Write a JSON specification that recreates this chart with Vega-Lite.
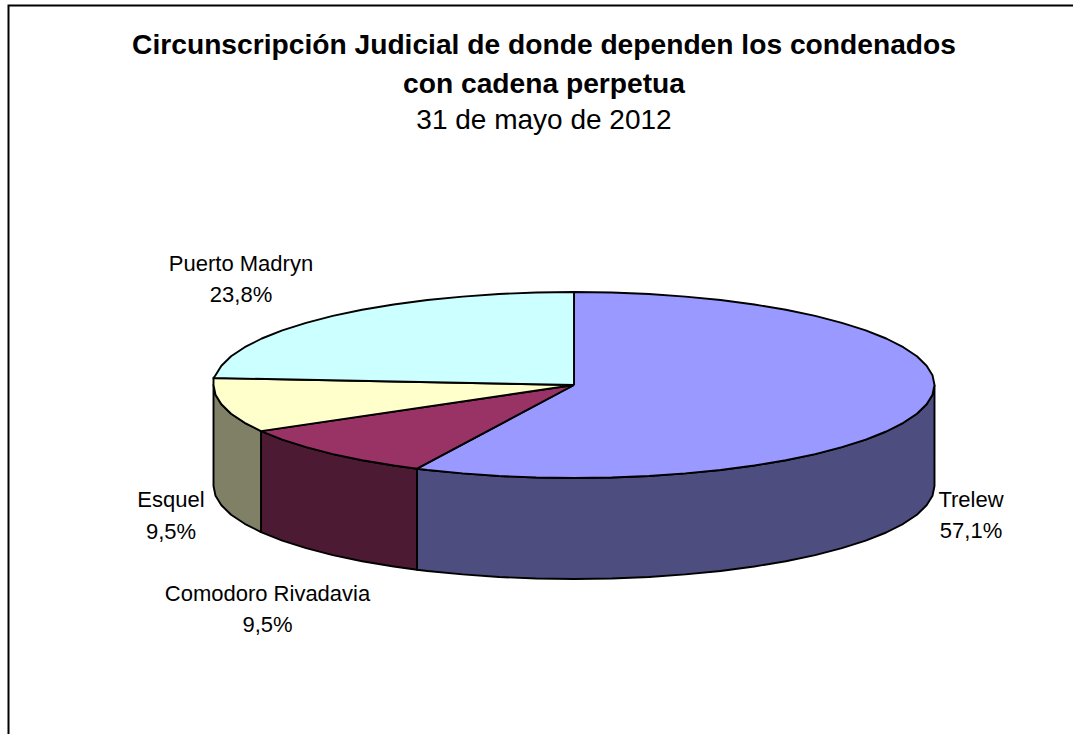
{
"$schema":"https://vega.github.io/schema/vega-lite/v6.json",
"width":1073,"height":734,"padding":0,"autosize":{"type":"fit","contains":"padding"},
"background":"white","view":{"stroke":null},
"datasets":{
"shape":[
{"p":"Trelew lado","n":1,"x":360.5,"y":0},{"p":"Trelew lado","n":2,"x":358.5,"y":9.7},{"p":"Trelew lado","n":3,"x":352.6,"y":19.3},{"p":"Trelew lado","n":4,"x":342.9,"y":28.7},{"p":"Trelew lado","n":5,"x":329.3,"y":37.8},{"p":"Trelew lado","n":6,"x":312.2,"y":46.5},{"p":"Trelew lado","n":7,"x":291.7,"y":54.7},{"p":"Trelew lado","n":8,"x":267.9,"y":62.2},{"p":"Trelew lado","n":9,"x":241.2,"y":69.1},{"p":"Trelew lado","n":10,"x":211.9,"y":75.2},{"p":"Trelew lado","n":11,"x":180.3,"y":80.5},{"p":"Trelew lado","n":12,"x":146.6,"y":85},{"p":"Trelew lado","n":13,"x":111.4,"y":88.4},{"p":"Trelew lado","n":14,"x":75,"y":91},{"p":"Trelew lado","n":15,"x":37.7,"y":92.5},{"p":"Trelew lado","n":16,"x":0,"y":93},{"p":"Trelew lado","n":17,"x":-37.7,"y":92.5},{"p":"Trelew lado","n":18,"x":-75,"y":91},{"p":"Trelew lado","n":19,"x":-111.4,"y":88.4},{"p":"Trelew lado","n":20,"x":-146.6,"y":85},{"p":"Trelew lado","n":21,"x":-157,"y":83.7},
{"p":"Trelew lado","n":22,"x":-157,"y":184.7},{"p":"Trelew lado","n":23,"x":-146.6,"y":186},{"p":"Trelew lado","n":24,"x":-111.4,"y":189.4},{"p":"Trelew lado","n":25,"x":-75,"y":192},{"p":"Trelew lado","n":26,"x":-37.7,"y":193.5},{"p":"Trelew lado","n":27,"x":0,"y":194},{"p":"Trelew lado","n":28,"x":37.7,"y":193.5},{"p":"Trelew lado","n":29,"x":75,"y":192},{"p":"Trelew lado","n":30,"x":111.4,"y":189.4},{"p":"Trelew lado","n":31,"x":146.6,"y":186},{"p":"Trelew lado","n":32,"x":180.3,"y":181.5},{"p":"Trelew lado","n":33,"x":211.9,"y":176.2},{"p":"Trelew lado","n":34,"x":241.2,"y":170.1},{"p":"Trelew lado","n":35,"x":267.9,"y":163.2},{"p":"Trelew lado","n":36,"x":291.7,"y":155.7},{"p":"Trelew lado","n":37,"x":312.2,"y":147.5},{"p":"Trelew lado","n":38,"x":329.3,"y":138.8},{"p":"Trelew lado","n":39,"x":342.9,"y":129.7},{"p":"Trelew lado","n":40,"x":352.6,"y":120.3},{"p":"Trelew lado","n":41,"x":358.5,"y":110.7},{"p":"Trelew lado","n":42,"x":360.5,"y":101},{"p":"Trelew lado","n":43,"x":360.5,"y":0},

{"p":"Comodoro lado","n":1,"x":-157,"y":83.7},{"p":"Comodoro lado","n":2,"x":-180.3,"y":80.5},{"p":"Comodoro lado","n":3,"x":-211.9,"y":75.2},{"p":"Comodoro lado","n":4,"x":-241.2,"y":69.1},{"p":"Comodoro lado","n":5,"x":-267.9,"y":62.2},{"p":"Comodoro lado","n":6,"x":-291.7,"y":54.7},{"p":"Comodoro lado","n":7,"x":-313,"y":46.1},{"p":"Comodoro lado","n":8,"x":-313,"y":147.1},{"p":"Comodoro lado","n":9,"x":-291.7,"y":155.7},{"p":"Comodoro lado","n":10,"x":-267.9,"y":163.2},{"p":"Comodoro lado","n":11,"x":-241.2,"y":170.1},{"p":"Comodoro lado","n":12,"x":-211.9,"y":176.2},{"p":"Comodoro lado","n":13,"x":-180.3,"y":181.5},{"p":"Comodoro lado","n":14,"x":-157,"y":184.7},{"p":"Comodoro lado","n":15,"x":-157,"y":83.7},

{"p":"Esquel lado","n":1,"x":-313,"y":46.1},{"p":"Esquel lado","n":2,"x":-329.3,"y":37.8},{"p":"Esquel lado","n":3,"x":-342.9,"y":28.7},{"p":"Esquel lado","n":4,"x":-352.6,"y":19.3},{"p":"Esquel lado","n":5,"x":-358.5,"y":9.7},{"p":"Esquel lado","n":6,"x":-360.5,"y":0},{"p":"Esquel lado","n":7,"x":-360.5,"y":101},{"p":"Esquel lado","n":8,"x":-358.5,"y":110.7},{"p":"Esquel lado","n":9,"x":-352.6,"y":120.3},{"p":"Esquel lado","n":10,"x":-342.9,"y":129.7},{"p":"Esquel lado","n":11,"x":-329.3,"y":138.8},{"p":"Esquel lado","n":12,"x":-313,"y":147.1},{"p":"Esquel lado","n":13,"x":-313,"y":46.1},

{"p":"Trelew","n":1,"x":0,"y":0},{"p":"Trelew","n":2,"x":0,"y":-93},{"p":"Trelew","n":3,"x":37.7,"y":-92.5},{"p":"Trelew","n":4,"x":75,"y":-91},{"p":"Trelew","n":5,"x":111.4,"y":-88.4},{"p":"Trelew","n":6,"x":146.6,"y":-85},{"p":"Trelew","n":7,"x":180.3,"y":-80.5},{"p":"Trelew","n":8,"x":211.9,"y":-75.2},{"p":"Trelew","n":9,"x":241.2,"y":-69.1},{"p":"Trelew","n":10,"x":267.9,"y":-62.2},{"p":"Trelew","n":11,"x":291.7,"y":-54.7},{"p":"Trelew","n":12,"x":312.2,"y":-46.5},{"p":"Trelew","n":13,"x":329.3,"y":-37.8},{"p":"Trelew","n":14,"x":342.9,"y":-28.7},{"p":"Trelew","n":15,"x":352.6,"y":-19.3},{"p":"Trelew","n":16,"x":358.5,"y":-9.7},{"p":"Trelew","n":17,"x":360.5,"y":0},{"p":"Trelew","n":18,"x":358.5,"y":9.7},{"p":"Trelew","n":19,"x":352.6,"y":19.3},{"p":"Trelew","n":20,"x":342.9,"y":28.7},{"p":"Trelew","n":21,"x":329.3,"y":37.8},{"p":"Trelew","n":22,"x":312.2,"y":46.5},{"p":"Trelew","n":23,"x":291.7,"y":54.7},{"p":"Trelew","n":24,"x":267.9,"y":62.2},{"p":"Trelew","n":25,"x":241.2,"y":69.1},{"p":"Trelew","n":26,"x":211.9,"y":75.2},{"p":"Trelew","n":27,"x":180.3,"y":80.5},{"p":"Trelew","n":28,"x":146.6,"y":85},{"p":"Trelew","n":29,"x":111.4,"y":88.4},{"p":"Trelew","n":30,"x":75,"y":91},{"p":"Trelew","n":31,"x":37.7,"y":92.5},{"p":"Trelew","n":32,"x":0,"y":93},{"p":"Trelew","n":33,"x":-37.7,"y":92.5},{"p":"Trelew","n":34,"x":-75,"y":91},{"p":"Trelew","n":35,"x":-111.4,"y":88.4},{"p":"Trelew","n":36,"x":-146.6,"y":85},{"p":"Trelew","n":37,"x":-157,"y":83.7},{"p":"Trelew","n":38,"x":0,"y":0},

{"p":"Comodoro","n":1,"x":0,"y":0},{"p":"Comodoro","n":2,"x":-157,"y":83.7},{"p":"Comodoro","n":3,"x":-180.3,"y":80.5},{"p":"Comodoro","n":4,"x":-211.9,"y":75.2},{"p":"Comodoro","n":5,"x":-241.2,"y":69.1},{"p":"Comodoro","n":6,"x":-267.9,"y":62.2},{"p":"Comodoro","n":7,"x":-291.7,"y":54.7},{"p":"Comodoro","n":8,"x":-313,"y":46.1},{"p":"Comodoro","n":9,"x":0,"y":0},

{"p":"Esquel","n":1,"x":0,"y":0},{"p":"Esquel","n":2,"x":-313,"y":46.1},{"p":"Esquel","n":3,"x":-329.3,"y":37.8},{"p":"Esquel","n":4,"x":-342.9,"y":28.7},{"p":"Esquel","n":5,"x":-352.6,"y":19.3},{"p":"Esquel","n":6,"x":-358.5,"y":9.7},{"p":"Esquel","n":7,"x":-360.5,"y":0},{"p":"Esquel","n":8,"x":-360.5,"y":-7},{"p":"Esquel","n":9,"x":0,"y":0},

{"p":"Puerto Madryn","n":1,"x":0,"y":0},{"p":"Puerto Madryn","n":2,"x":-360.5,"y":-7},{"p":"Puerto Madryn","n":3,"x":-358.5,"y":-9.7},{"p":"Puerto Madryn","n":4,"x":-352.6,"y":-19.3},{"p":"Puerto Madryn","n":5,"x":-342.9,"y":-28.7},{"p":"Puerto Madryn","n":6,"x":-329.3,"y":-37.8},{"p":"Puerto Madryn","n":7,"x":-312.2,"y":-46.5},{"p":"Puerto Madryn","n":8,"x":-291.7,"y":-54.7},{"p":"Puerto Madryn","n":9,"x":-267.9,"y":-62.2},{"p":"Puerto Madryn","n":10,"x":-241.2,"y":-69.1},{"p":"Puerto Madryn","n":11,"x":-211.9,"y":-75.2},{"p":"Puerto Madryn","n":12,"x":-180.3,"y":-80.5},{"p":"Puerto Madryn","n":13,"x":-146.6,"y":-85},{"p":"Puerto Madryn","n":14,"x":-111.4,"y":-88.4},{"p":"Puerto Madryn","n":15,"x":-75,"y":-91},{"p":"Puerto Madryn","n":16,"x":-37.7,"y":-92.5},{"p":"Puerto Madryn","n":17,"x":0,"y":-93},{"p":"Puerto Madryn","n":18,"x":0,"y":0}
],
"frame":[{"n":1,"x":-565.5,"y":349},{"n":2,"x":-565.5,"y":-379.5},{"n":3,"x":499,"y":-379.5}],
"labels":[
{"t":"Puerto Madryn","x":-333,"y":-121},{"t":"23,8%","x":-333,"y":-90},
{"t":"Esquel","x":-403,"y":115},{"t":"9,5%","x":-403,"y":147},
{"t":"Comodoro Rivadavia","x":-306.5,"y":209},{"t":"9,5%","x":-306.5,"y":240},
{"t":"Trelew","x":397,"y":115},{"t":"57,1%","x":397,"y":146}
],
"title":[
{"t":"Circunscripción Judicial de donde dependen los condenados","x":-30,"y":-339},
{"t":"con cadena perpetua","x":-30,"y":-300}
],
"subtitle":[{"t":"31 de mayo de 2012","x":-30,"y":-264}]
},
"encoding":{
"x":{"field":"x","type":"quantitative","axis":null,"scale":{"domain":[-574,499],"nice":false,"zero":false}},
"y":{"field":"y","type":"quantitative","axis":null,"scale":{"domain":[-385,349],"nice":false,"zero":false,"reverse":true}}
},
"layer":[
{"data":{"name":"frame"},"mark":{"type":"line","stroke":"black","strokeWidth":2,"fill":null,"clip":true},"encoding":{"order":{"field":"n","type":"quantitative"}}},
{"data":{"name":"shape"},"mark":{"type":"line","stroke":"black","strokeWidth":1.9,"strokeJoin":"round","clip":true},
"encoding":{"order":{"field":"n","type":"quantitative"},"detail":{"field":"p","type":"nominal"},
"fill":{"field":"p","type":"nominal","legend":null,"scale":{"domain":["Trelew","Comodoro","Esquel","Puerto Madryn","Trelew lado","Comodoro lado","Esquel lado"],"range":["#9999FF","#993366","#FFFFCC","#CCFFFF","#4D4D80","#4D1A33","#808066"]}}}},
{"data":{"name":"labels"},"mark":{"type":"text","font":"Liberation Sans","fontSize":22,"color":"black","align":"center","baseline":"middle"},"encoding":{"text":{"field":"t","type":"nominal"}}},
{"data":{"name":"title"},"mark":{"type":"text","font":"Liberation Sans","fontSize":28.2,"fontWeight":"bold","color":"black","align":"center","baseline":"middle"},"encoding":{"text":{"field":"t","type":"nominal"}}},
{"data":{"name":"subtitle"},"mark":{"type":"text","font":"Liberation Sans","fontSize":28,"color":"black","align":"center","baseline":"middle"},"encoding":{"text":{"field":"t","type":"nominal"}}}
]
}
